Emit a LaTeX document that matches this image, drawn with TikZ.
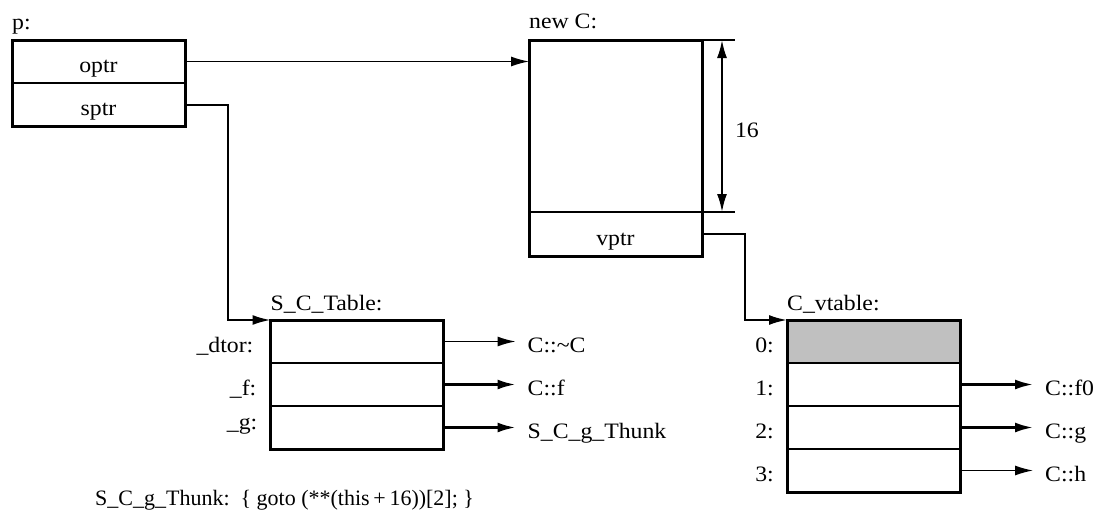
\documentclass[tikz,border=0pt]{standalone}
\usepackage{fontspec}
\setmainfont{Liberation Serif}[FakeStretch=1.08]
\newfontfamily\thunkfont{Liberation Serif}
\usetikzlibrary{arrows.meta,positioning}
\definecolor{slotG}{RGB}{192,192,192}

\begin{document}
\begin{tikzpicture}[x=1pt,y=-1pt,font=\fontsize{22}{26}\selectfont,
  cell/.style={draw,line width=1.4pt,minimum width=173pt,minimum height=43pt,
    inner sep=0pt,outer sep=0pt,text height=22pt,text depth=0pt},
  txt/.style={inner sep=0pt,text height=22pt,text depth=0pt},
  tgt/.style={txt,inner xsep=12pt},
  ptr/.style={-{Latex[length=18pt,width=10pt]},line width=1.3pt},
  bptr/.style={ptr,line width=2.5pt},
  frame/.style={line width=3pt}]
\useasboundingbox (0,0) rectangle (1109,520);

% p
\node[cell] (p-o) at (98.5,61.5) {optr};
\node[cell,below=0pt of p-o] (p-s) {sptr};
\node[txt,anchor=base west] (p-lbl) at ([yshift=11pt]p-o.north west) {p:};
\draw[frame] (p-o.north west) rectangle (p-s.south east);

% new C
\node[cell,minimum height=172pt] (c-b) at (615.5,126) {};
\node[cell,minimum height=44pt,below=0pt of c-b] (c-v) {vptr};
\node[txt,anchor=base west] (c-lbl) at ([yshift=12pt]c-b.north west) {new C:};
\draw[frame] (c-b.north west) rectangle (c-v.south east);

% offset 16
\coordinate (d-t) at ([xshift=33pt]c-b.north east);
\coordinate (d-b) at ([xshift=33pt]c-b.south east);
\coordinate (d-1) at ([xshift=20pt]c-b.north east);
\coordinate (d-2) at ([xshift=20pt]c-b.south east);
\draw[line width=1.4pt] (c-b.north east) -- (d-t) (c-b.south east) -- (d-b);
\draw[{Latex[length=18pt,width=10pt]}-{Latex[length=18pt,width=10pt]},line width=2pt]
  (d-1) -- (d-2) node[txt,midway,right=12pt] (d-lbl) {16};

% S_C_Table
\node[cell] (t-1) at (357,341.5) {};
\foreach \i/\j in {2/1,3/2} \node[cell,below=0pt of t-\j] (t-\i) {};
\node[txt,anchor=base west] (t-lbl) at ([yshift=10pt]t-1.north west) {S\_C\_Table:};
\draw[frame] (t-1.north west) rectangle (t-3.south east);
\node[txt,anchor=east] (t-n1) at ([xshift=-17pt]t-1.west) {\_dtor:};
\node[txt,anchor=east] (t-n2) at ([xshift=-14pt]t-2.west) {\_f:};
\node[txt,anchor=east] (t-n3) at ([xshift=-13pt,yshift=9pt]t-3.west) {\_g:};
\node[tgt,right=72pt of t-1] (t-a1) {C::\textasciitilde C};
\node[tgt,right=72pt of t-2] (t-a2) {C::f};
\node[tgt,right=72pt of t-3] (t-a3) {S\_C\_g\_Thunk};
\draw[ptr] (t-1) -- (t-a1);
\draw[bptr] (t-2) -- (t-a2);
\draw[bptr] (t-3) -- (t-a3);

% C_vtable
\node[cell,fill=slotG] (v-0) at (873.5,341.5) {};
\foreach \i/\j in {1/0,2/1,3/2} \node[cell,below=0pt of v-\j] (v-\i) {};
\node[txt,anchor=base west] (v-lbl) at ([yshift=10pt]v-0.north west) {C\_vtable:};
\draw[frame] (v-0.north west) rectangle (v-3.south east);
\foreach \i in {0,...,3} \node[txt,anchor=east] (v-n\i) at ([xshift=-13pt]v-\i.west) {\i:};
\foreach \i/\t in {1/C::f0,2/C::g,3/C::h} \node[tgt,right=73pt of v-\i] (v-a\i) {\t};
\draw[bptr] (v-1) -- (v-a1);
\draw[bptr] (v-2) -- (v-a2);
\draw[ptr] (v-3) -- (v-a3);

% pointers
\draw[ptr] (p-o.east) -- (p-o.east -| c-b.west);
\draw[ptr,line width=2pt] (p-s.east) -- ++(43,0) |- (t-1.north west);
\draw[ptr,line width=2pt] (c-v.east) -- ++(43,0) |- (v-0.north west);

\node[txt,anchor=base west,font=\thunkfont\fontsize{22}{26}\selectfont] (thunk) at (95,505)
  {S\_C\_g\_Thunk:\ \ \{ goto (**(this\,+\,16))[2]; \}};
\end{tikzpicture}
\end{document}
